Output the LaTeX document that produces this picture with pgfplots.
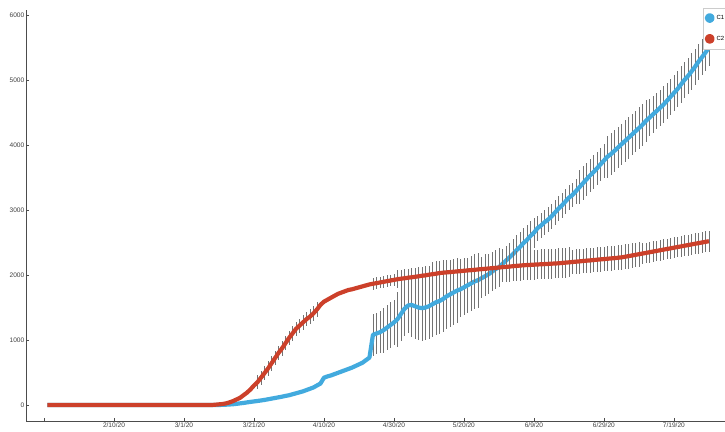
\documentclass[border=0pt]{standalone}
\usepackage{fontspec}
\setmainfont{Liberation Sans}
\usepackage{pgfplots}
\usepackage{pgfplotstable}
\pgfplotsset{compat=1.18}
\definecolor{blueC}{RGB}{66,170,222}
\definecolor{redC}{RGB}{204,64,42}

\pgfplotstableread[row sep=\\]{
x y e\\
1 0 0\\ 50 0 0\\ 51 3 0\\ 52 5 0\\ 53 8 0\\ 54 12 0\\ 55 18 0\\ 56 25 0\\ 57 32 0\\ 58 40 0\\ 59 48 0\\
60 55 0\\ 61 62 0\\ 62 70 0\\ 63 78 0\\ 64 88 0\\ 65 98 0\\ 66 108 0\\ 67 118 0\\ 68 128 0\\ 69 140 0\\
70 150 0\\ 71 165 0\\ 72 180 0\\ 73 195 0\\ 74 210 0\\ 75 230 0\\ 76 250 0\\ 77 270 0\\ 78 300 0\\ 79 330 0\\
80 420 0\\ 81 440 0\\ 82 455 0\\ 83 475 0\\ 84 495 0\\ 85 515 0\\ 86 535 0\\ 87 555 0\\ 88 575 0\\ 89 600 0\\
90 625 0\\ 91 650 0\\ 92 690 0\\ 93 730 0\\ 94 1080 320\\ 95 1100 320\\ 96 1120 320\\ 97 1150 350\\ 98 1190 350\\ 99 1230 350\\
100 1270 350\\ 101 1320 420\\ 102 1400 420\\ 103 1480 420\\ 104 1530 420\\ 105 1540 500\\ 106 1520 500\\ 107 1500 500\\ 108 1490 500\\ 109 1500 500\\
110 1520 500\\ 111 1550 500\\ 112 1580 500\\ 113 1600 500\\ 114 1630 500\\ 115 1670 500\\ 116 1700 500\\ 117 1730 500\\ 118 1760 500\\ 119 1780 420\\
120 1810 420\\ 121 1840 420\\ 122 1870 420\\ 123 1900 420\\ 124 1920 420\\ 125 1950 300\\ 126 1980 300\\ 127 2010 300\\ 128 2050 300\\ 129 2090 300\\
130 2120 300\\ 131 2170 230\\ 132 2220 230\\ 133 2270 230\\ 134 2320 230\\ 135 2380 230\\ 136 2430 230\\ 137 2490 230\\ 138 2540 230\\ 139 2600 230\\
140 2650 230\\ 141 2720 190\\ 142 2760 190\\ 143 2810 190\\ 144 2850 190\\ 145 2900 190\\ 146 2960 190\\ 147 3020 190\\ 148 3070 190\\ 149 3130 190\\
150 3190 190\\ 151 3230 190\\ 152 3290 190\\ 153 3350 260\\ 154 3410 260\\ 155 3470 260\\ 156 3530 260\\ 157 3580 260\\ 158 3640 260\\ 159 3700 260\\
160 3760 260\\ 161 3820 320\\ 162 3860 320\\ 163 3910 320\\ 164 3960 320\\ 165 4010 320\\ 166 4060 320\\ 167 4110 320\\ 168 4160 320\\ 169 4210 320\\
170 4260 320\\ 171 4310 320\\ 172 4370 320\\ 173 4420 280\\ 174 4470 280\\ 175 4520 280\\ 176 4570 280\\ 177 4620 280\\ 178 4680 280\\ 179 4740 280\\
180 4800 280\\ 181 4860 280\\ 182 4930 280\\ 183 5000 280\\ 184 5060 280\\ 185 5130 280\\ 186 5200 280\\ 187 5280 280\\ 188 5350 280\\ 189 5420 280\\
190 5500 280\\
}\blueT

\pgfplotstableread[row sep=\\]{
x y e\\
1 0 0\\ 48 0 0\\ 49 5 0\\ 50 10 0\\ 51 15 0\\ 52 25 0\\ 53 40 0\\ 54 60 0\\ 55 85 0\\ 56 110 0\\ 57 150 0\\ 58 190 0\\ 59 240 0\\
60 300 0\\ 61 350 110\\ 62 420 110\\ 63 490 110\\ 64 560 110\\ 65 640 110\\ 66 720 110\\ 67 800 110\\ 68 870 110\\ 69 950 110\\
70 1030 110\\ 71 1100 110\\ 72 1170 110\\ 73 1220 110\\ 74 1270 110\\ 75 1320 110\\ 76 1360 110\\ 77 1410 110\\ 78 1470 110\\ 79 1540 0\\
80 1590 0\\ 81 1620 0\\ 82 1650 0\\ 83 1680 0\\ 84 1710 0\\ 85 1730 0\\ 86 1750 0\\ 87 1770 0\\ 88 1780 0\\ 89 1795 0\\
90 1810 0\\ 91 1825 0\\ 92 1840 0\\ 93 1855 0\\ 94 1865 90\\ 95 1875 90\\ 96 1885 90\\ 97 1895 90\\ 98 1905 90\\ 99 1915 90\\
100 1925 90\\ 101 1935 140\\ 102 1943 140\\ 103 1950 140\\ 104 1958 140\\ 105 1965 140\\ 106 1972 140\\ 107 1980 140\\ 108 1988 140\\ 109 1995 140\\
110 2005 140\\ 111 2012 190\\ 112 2020 190\\ 113 2030 190\\ 114 2035 190\\ 115 2040 190\\ 116 2045 190\\ 117 2050 190\\ 118 2055 190\\ 119 2060 190\\
120 2065 190\\ 121 2070 190\\ 122 2075 190\\ 123 2080 190\\ 124 2085 190\\ 125 2090 190\\ 126 2095 230\\ 127 2100 230\\ 128 2105 230\\ 129 2110 230\\
130 2115 230\\ 131 2120 230\\ 132 2125 230\\ 133 2130 230\\ 134 2135 230\\ 135 2140 230\\ 136 2145 230\\ 137 2150 230\\ 138 2153 230\\ 139 2156 230\\
140 2159 230\\ 141 2162 230\\ 142 2165 230\\ 143 2168 230\\ 144 2171 230\\ 145 2174 230\\ 146 2177 230\\ 147 2180 230\\ 148 2185 230\\ 149 2190 230\\
150 2195 230\\ 151 2200 190\\ 152 2205 190\\ 153 2210 190\\ 154 2215 190\\ 155 2220 190\\ 156 2225 190\\ 157 2230 190\\ 158 2235 190\\ 159 2240 190\\
160 2245 190\\ 161 2250 190\\ 162 2255 190\\ 163 2260 190\\ 164 2265 190\\ 165 2272 190\\ 166 2280 190\\ 167 2290 190\\ 168 2300 190\\ 169 2310 190\\
170 2320 190\\ 171 2330 160\\ 172 2340 160\\ 173 2350 160\\ 174 2360 160\\ 175 2370 160\\ 176 2380 160\\ 177 2390 160\\ 178 2400 160\\ 179 2410 160\\
180 2420 160\\ 181 2430 160\\ 182 2440 160\\ 183 2450 160\\ 184 2460 160\\ 185 2470 160\\ 186 2480 160\\ 187 2490 160\\ 188 2500 160\\ 189 2510 160\\
190 2520 160\\
}\redT

\begin{document}
\begin{tikzpicture}
\path[use as bounding box] (0,0) rectangle (725bp,432bp);
\begin{axis}[
  at={(26bp,11bp)}, anchor=south west,
  scale only axis, width=699bp, height=411bp,
  xmin=-5.14, xmax=194.6, ymin=-246, ymax=6077,
  axis x line*=bottom, axis y line*=left,
  axis line style={black!70, line width=0.6bp, -},
  tick align=inside, major tick length=3bp,
  tick style={black!70, line width=0.5bp},
  xtick={0,20,...,180},
  xticklabels={,2/10/20,3/1/20,3/21/20,4/10/20,4/30/20,5/20/20,6/9/20,6/29/20,7/19/20},
  ytick={0,1000,...,6000},
  /pgf/number format/assume math mode=true,
  /pgf/number format/1000 sep={},
  ticklabel style={font=\fontsize{6.6}{7.5}\selectfont, text=black!75},
  xticklabel style={inner sep=1.5bp},
  yticklabel style={inner sep=1.5bp},
  legend style={at={(0.968,1.005)}, anchor=north west, draw=black!20, fill=white,
    font=\fontsize{6}{7}\selectfont, inner xsep=2bp, inner ysep=5bp, row sep=11bp},
  legend cell align=left,
  clip=false,
]
\addplot[draw=none, mark=none, forget plot,
  error bars/.cd, y dir=both, y explicit, error mark=none,
  error bar style={draw=black!55, line width=0.4bp}]
  table[x=x, y=y, y error=e] {\blueT};
\addplot[blueC, mark=none, line width=4.2bp, line join=round,
  legend image code/.code={\fill[blueC] (2.5bp,0) circle (2.8bp);}]
  table[x=x, y=y] {\blueT};
\addlegendentry{C1}
\addplot[draw=none, mark=none, forget plot,
  error bars/.cd, y dir=both, y explicit, error mark=none,
  error bar style={draw=black!55, line width=0.4bp}]
  table[x=x, y=y, y error=e] {\redT};
\addplot[redC, mark=none, line width=4.2bp, line join=round,
  legend image code/.code={\fill[redC] (2.5bp,0) circle (2.8bp);}]
  table[x=x, y=y] {\redT};
\addlegendentry{C2}
\end{axis}
\end{tikzpicture}
\end{document}
